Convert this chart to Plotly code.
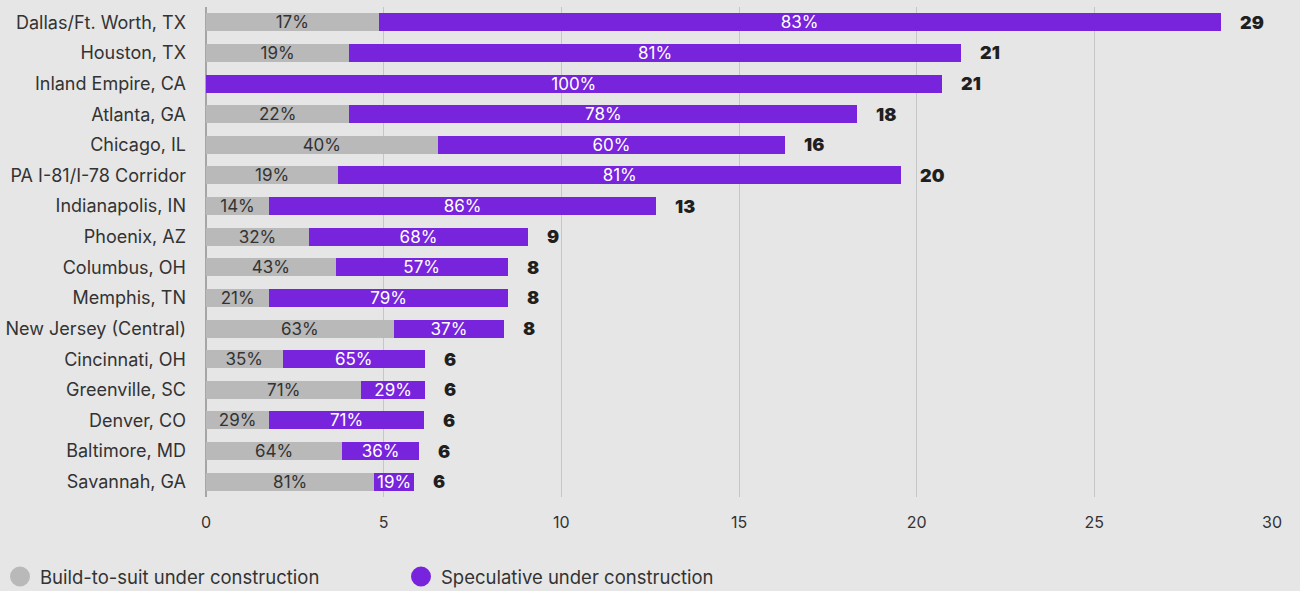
import plotly.graph_objects as go

# Industrial construction pipeline by market (million sq. ft.)
markets = [
    "Dallas/Ft. Worth, TX", "Houston, TX", "Inland Empire, CA", "Atlanta, GA",
    "Chicago, IL", "PA I-81/I-78 Corridor", "Indianapolis, IN", "Phoenix, AZ",
    "Columbus, OH", "Memphis, TN", "New Jersey (Central)", "Cincinnati, OH",
    "Greenville, SC", "Denver, CO", "Baltimore, MD", "Savannah, GA",
]
total_msf = [28.56, 21.24, 20.70, 18.33, 16.30, 19.57, 12.67, 9.06,
             8.49, 8.49, 8.39, 6.16, 6.16, 6.13, 5.99, 5.85]
bts_pct = [17, 19, 0, 22, 40, 19, 14, 32, 43, 21, 63, 35, 71, 29, 64, 81]
spec_pct = [83, 81, 100, 78, 60, 81, 86, 68, 57, 79, 37, 65, 29, 71, 36, 19]
x_ticks = [0, 5, 10, 15, 20, 25, 30]

GRAY = "#b9b9b9"
PURPLE = "#7823dc"
BG = "#e6e6e6"
FONT = "Inter"

bts_vals = [t * p / 100 for t, p in zip(total_msf, bts_pct)]
spec_vals = [t * p / 100 for t, p in zip(total_msf, spec_pct)]

fig = go.Figure()

fig.add_trace(go.Bar(
    y=markets, x=bts_vals, orientation="h",
    marker=dict(color=GRAY, line=dict(width=0)),
    text=[f"{p}%" if p > 0 else "" for p in bts_pct],
    textposition="inside", insidetextanchor="middle", textangle=0,
    textfont=dict(family=FONT, size=17, color="#333333"),
    showlegend=False, hoverinfo="skip",
))
fig.add_trace(go.Bar(
    y=markets, x=spec_vals, orientation="h",
    marker=dict(color=PURPLE, line=dict(width=0)),
    text=[f"{p}%" if p > 0 else "" for p in spec_pct],
    textposition="inside", insidetextanchor="middle", textangle=0,
    textfont=dict(family=FONT, size=17, color="#ffffff"),
    showlegend=False, hoverinfo="skip",
))

# Legend entries drawn as round markers
for name, col in [("Build-to-suit under construction", GRAY),
                  ("Speculative under construction", PURPLE)]:
    fig.add_trace(go.Scatter(
        x=[None], y=[None], mode="markers", name=name,
        marker=dict(symbol="circle", size=16, color=col,
                    line=dict(color=col, width=4)),
    ))

# Bold totals at the end of each bar
for m, t in zip(markets, total_msf):
    fig.add_annotation(
        x=t, y=m, xref="x", yref="y", text=f"{round(t)}",
        showarrow=False, xanchor="left", xshift=17,
        font=dict(family=FONT, size=18, color="#1f1f1f", weight=900),
    )

fig.update_layout(
    barmode="stack", bargap=0.41,
    width=1300, height=591,
    margin=dict(l=206, r=28, t=7, b=94),
    paper_bgcolor=BG, plot_bgcolor=BG,
    font=dict(family=FONT, size=16, color="#333333"),
    uniformtext=dict(minsize=17, mode="show"),
    legend=dict(
        orientation="h", xref="container", yref="container",
        x=-0.0077, xanchor="left", y=0.0237, yanchor="middle",
        traceorder="normal",
        font=dict(family=FONT, size=18.5, color="#333333"),
        entrywidth=356, entrywidthmode="pixels", itemsizing="trace",
        bgcolor="rgba(0,0,0,0)",
    ),
    xaxis=dict(
        range=[0, 30], tickvals=x_ticks, showgrid=True, gridcolor="#c6c6c6",
        gridwidth=1, zeroline=True, zerolinecolor="#a6a6a6", zerolinewidth=2,
        showline=False, ticks="", ticklabelstandoff=14, automargin=False,
        tickfont=dict(family=FONT, size=16, color="#333333"), fixedrange=True,
    ),
    yaxis=dict(
        categoryorder="array", categoryarray=markets, autorange="reversed",
        showgrid=False, ticks="", ticklabelstandoff=19, automargin=False,
        tickfont=dict(family=FONT, size=18, color="#333333"), fixedrange=True,
    ),
)

fig.write_html("out.html")
